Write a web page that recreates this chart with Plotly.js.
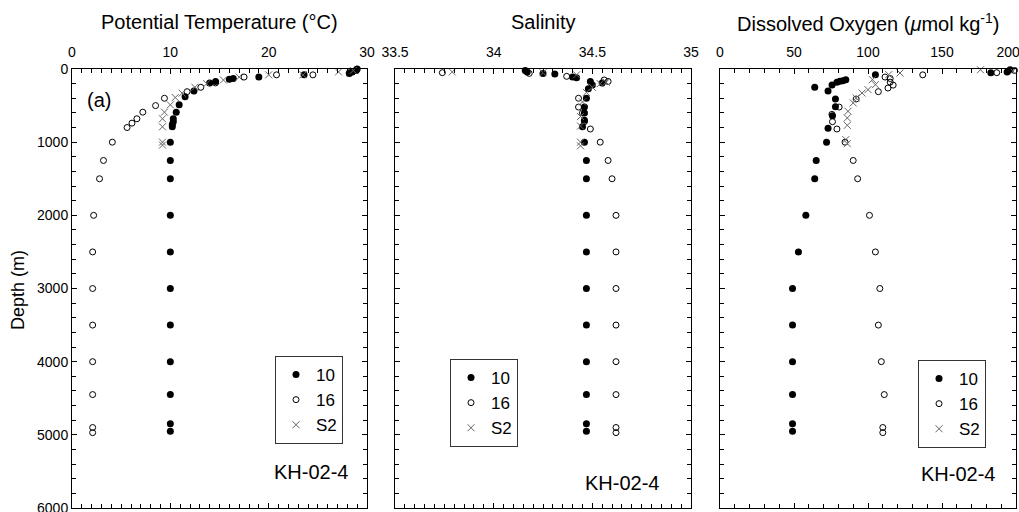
<!DOCTYPE html>
<html>
<head>
<meta charset="utf-8">
<script src="https://cdn.plot.ly/plotly-3.0.1.min.js"></script>
<style>html,body{margin:0;padding:0;background:#fff;}#chart{width:1019px;height:512px;}</style>
</head>
<body>
<div id="chart"></div>
<script>
// ---------- Data (depth in m) ----------
const stationNames = ["10", "16", "S2"];

// Potential temperature (°C)
const st10T_depth = [0, 20, 40, 60, 80, 110, 130, 140, 170, 190, 300, 380, 490, 590, 680, 720, 760, 790, 1000, 1250, 1500, 2000, 2500, 3000, 3500, 4000, 4450, 4850, 4950];
const st10T = [29.0, 28.9, 28.5, 28.2, 23.6, 19.0, 16.4, 16.0, 14.6, 14.0, 12.4, 11.5, 10.9, 10.6, 10.3, 10.3, 10.2, 10.2, 10.0, 10.0, 10.0, 10.0, 10.0, 10.0, 10.0, 10.0, 10.0, 10.0, 10.0];
const st16T_depth = [10, 50, 80, 80, 110, 190, 250, 310, 400, 500, 590, 680, 740, 800, 1000, 1250, 1500, 2000, 2500, 3000, 3500, 4000, 4450, 4900, 4970];
const st16T = [28.9, 28.2, 24.5, 20.8, 17.5, 14.6, 13.1, 11.7, 9.4, 8.5, 7.2, 6.6, 6.1, 5.6, 4.1, 3.2, 2.8, 2.2, 2.1, 2.1, 2.1, 2.1, 2.1, 2.1, 2.1];
const s2T_depth = [20, 40, 80, 80, 110, 150, 200, 250, 330, 390, 490, 590, 680, 790, 1000, 1040];
const s2T = [28.6, 27.1, 23.5, 20.0, 17.0, 15.4, 13.7, 12.5, 11.2, 10.5, 10.0, 9.4, 9.2, 9.2, 9.2, 9.2];

// Salinity
const st10S_depth = [20, 40, 60, 70, 110, 120, 170, 190, 220, 270, 400, 520, 600, 700, 790, 1000, 1250, 1500, 2000, 2500, 3000, 3500, 4000, 4450, 4850, 4950];
const st10S = [34.16, 34.17, 34.25, 34.31, 34.40, 34.42, 34.49, 34.55, 34.50, 34.48, 34.47, 34.46, 34.46, 34.46, 34.45, 34.46, 34.47, 34.47, 34.47, 34.47, 34.47, 34.47, 34.47, 34.47, 34.47, 34.47];
const st16S_depth = [50, 60, 100, 150, 170, 400, 520, 600, 720, 820, 1000, 1250, 1500, 2000, 2500, 3000, 3500, 4000, 4450, 4900, 4970];
const st16S = [33.74, 34.18, 34.37, 34.56, 34.58, 34.43, 34.43, 34.45, 34.46, 34.49, 34.54, 34.58, 34.60, 34.62, 34.62, 34.62, 34.62, 34.62, 34.62, 34.62, 34.62];
const s2S_depth = [40, 50, 80, 180, 200, 250, 320, 450, 650, 780, 1000, 1050];
const s2S = [33.79, 34.25, 34.42, 34.57, 34.54, 34.50, 34.47, 34.45, 34.44, 34.44, 34.44, 34.44];

// Dissolved oxygen (µmol/kg)
const st10O_depth = [10, 40, 50, 80, 146, 159, 168, 182, 219, 250, 300, 410, 515, 640, 810, 1000, 1250, 1500, 2000, 2500, 3000, 3500, 4000, 4450, 4850, 4950];
const st10O = [196, 194, 183, 105, 85, 83, 81, 79, 75.7, 64, 73, 78, 78, 76, 73, 72, 65, 64, 58, 53, 49, 49, 49, 49, 49, 49];
const st16O_depth = [20, 50, 80, 110, 130, 180, 220, 260, 310, 410, 520, 620, 720, 820, 1000, 1250, 1500, 2000, 2500, 3000, 3500, 4000, 4450, 4900, 4970];
const st16O = [199, 187, 137, 111.5, 115, 115, 117, 113.5, 107, 92, 80.5, 75.6, 76, 79, 84.5, 90, 93, 101, 105, 108, 107, 109, 111, 110, 110];
const s2O_depth = [10, 30, 55, 77, 146, 214, 282, 328, 396, 464, 578, 669, 770, 965, 1020];
const s2O = [176, 198, 121.6, 114, 103, 105, 100, 96, 92, 90, 86.5, 86, 86, 85, 86];

// Oxygen axis tick labels (last one padded so it stays inside the page, as in the original)
const oxyTickVals = [0, 50, 100, 150, 200];
const oxyTickText = ["0", "50", "100", "150", "200\u00a0\u00a0\u00a0\u00a0"];

const panelTitles = ["Potential Temperature (°C)", "Salinity", "Dissolved Oxygen (<i>μ</i>mol kg<sup>-1</sup>)"];
const cruiseLabel = "KH-02-4";

// ---------- Styles ----------
const FONT = "Liberation Sans, Arial, Helvetica, sans-serif";
const styles = [
  {symbol: "circle", size: 7, color: "#000", line: {width: 0}},
  {symbol: "circle-open", size: 6, color: "#000", line: {width: 1, color: "#000"}},
  {symbol: "x-thin-open", size: 7, color: "#666", line: {width: 1, color: "#666"}}
];

const panels = [
  [[st10T, st10T_depth], [st16T, st16T_depth], [s2T, s2T_depth]],
  [[st10S, st10S_depth], [st16S, st16S_depth], [s2S, s2S_depth]],
  [[st10O, st10O_depth], [st16O, st16O_depth], [s2O, s2O_depth]]
];

const traces = [];
panels.forEach((p, i) => {
  p.forEach((s, j) => {
    traces.push({
      type: "scatter", mode: "markers",
      x: s[0], y: s[1], name: stationNames[j],
      xaxis: i === 0 ? "x" : "x" + (i + 1),
      yaxis: i === 0 ? "y" : "y" + (i + 1),
      legend: i === 0 ? "legend" : "legend" + (i + 1),
      marker: styles[j], cliponaxis: false
    });
  });
});

const W = 1019, H = 512, ML = 72, MR = 3, MT = 69, MB = 4;
const PW = W - ML - MR, PH = H - MT - MB;
const px2x = p => (p - ML) / PW;
const py2y = p => (H - MB - p) / PH;

const domains = [[px2x(72), px2x(367)], [px2x(395), px2x(691)], [px2x(720), px2x(1016)]];
const xRanges = [[0, 30], [33.5, 35], [0, 200]];
const xDticks = [10, 0.5, 50];
const xMinor = [1, 0.05, 10];

const layout = {
  width: W, height: H,
  margin: {l: ML, r: MR, t: MT, b: MB},
  paper_bgcolor: "#fff", plot_bgcolor: "#fff",
  font: {family: FONT, color: "#000", size: 14},
  annotations: [], showlegend: true
};

for (let i = 0; i < 3; i++) {
  const xs = i === 0 ? "xaxis" : "xaxis" + (i + 1);
  const ys = i === 0 ? "yaxis" : "yaxis" + (i + 1);
  layout[xs] = {
    domain: domains[i], anchor: i === 0 ? "y" : "y" + (i + 1), side: "top",
    range: xRanges[i], autorange: false, dtick: xDticks[i], tick0: xRanges[i][0],
    ticks: "inside", ticklen: 5, tickwidth: 1, tickcolor: "#000",
    minor: {dtick: xMinor[i], ticks: "inside", ticklen: 4, tickwidth: 1, tickcolor: "#000"},
    showline: true, linecolor: "#000", linewidth: 1, mirror: "allticks",
    showgrid: false, zeroline: false, ticklabeloverflow: "allow", ticklabelstandoff: 5,
    tickfont: {family: FONT, size: 14, color: "#000"}
  };
  if (i === 2) {
    layout[xs].tickmode = "array";
    layout[xs].tickvals = oxyTickVals;
    layout[xs].ticktext = oxyTickText;
  }
  layout[ys] = {
    domain: [0, 1], anchor: i === 0 ? "x" : "x" + (i + 1),
    range: [6000, 0], autorange: false, dtick: 1000, tick0: 0,
    ticks: "inside", ticklen: 5, tickwidth: 1, tickcolor: "#000",
    minor: {dtick: 200, ticks: "inside", ticklen: 4, tickwidth: 1, tickcolor: "#000"},
    showline: true, linecolor: "#000", linewidth: 1, mirror: "allticks",
    showgrid: false, zeroline: false, showticklabels: i === 0, ticklabeloverflow: "allow",
    tickfont: {family: FONT, size: 14, color: "#000"}
  };
  // panel title
  layout.annotations.push({
    text: panelTitles[i], xref: "paper", yref: "paper",
    x: (domains[i][0] + domains[i][1]) / 2, y: py2y(22),
    xanchor: "center", yanchor: "middle", showarrow: false,
    font: {family: FONT, size: 20, color: "#000"}
  });
}

const kh = [[311, 472], [622, 483], [958, 474]];
kh.forEach(p => layout.annotations.push({
  text: cruiseLabel, xref: "paper", yref: "paper", x: px2x(p[0]), y: py2y(p[1]),
  xanchor: "center", yanchor: "middle", showarrow: false,
  font: {family: FONT, size: 20, color: "#000"}
}));
layout.annotations.push({
  text: "(a)", xref: "paper", yref: "paper", x: px2x(99), y: py2y(100),
  xanchor: "center", yanchor: "middle", showarrow: false,
  font: {family: FONT, size: 20, color: "#000"}
});
layout.annotations.push({
  text: "Depth (m)", xref: "paper", yref: "paper", x: px2x(18), y: py2y(290),
  xanchor: "center", yanchor: "middle", showarrow: false, textangle: -90,
  font: {family: FONT, size: 18, color: "#000"}
});

const legPos = [[275, 444], [450, 447], [918, 448]];
legPos.forEach((p, i) => {
  layout[i === 0 ? "legend" : "legend" + (i + 1)] = {
    x: px2x(p[0]), y: py2y(p[1]), xanchor: "left", yanchor: "bottom",
    bgcolor: "#fff", bordercolor: "#333", borderwidth: 1,
    font: {family: FONT, size: 17, color: "#000"}, traceorder: "normal"
  };
});

Plotly.newPlot("chart", traces, layout, {displayModeBar: false, staticPlot: true});
</script>
</body>
</html>
